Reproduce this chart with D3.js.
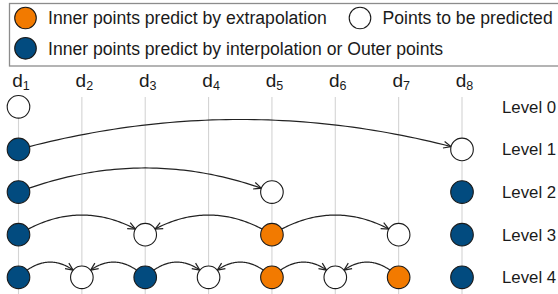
<!DOCTYPE html>
<html>
<head>
<meta charset="utf-8">
<script src="https://cdn.jsdelivr.net/npm/d3@7"></script>
<style>
  html, body { margin: 0; padding: 0; background: #fff; }
  svg { display: block; font-family: "Liberation Sans", Arial, Helvetica, sans-serif; }
</style>
</head>
<body>
<svg id="chart" width="558" height="294"></svg>
<script>
// ---------- data ----------
const categories = ["d1", "d2", "d3", "d4", "d5", "d6", "d7", "d8"];
const levels = ["Level 0", "Level 1", "Level 2", "Level 3", "Level 4"];
// point kind per column: "o" extrapolation, "b" interpolation/outer, "w" to be predicted, null = none
const level0Points = ["w", null, null, null, null, null, null, null];
const level1Points = ["b", null, null, null, null, null, null, "w"];
const level2Points = ["b", null, null, null, "w", null, null, "b"];
const level3Points = ["b", null, "w", null, "o", null, "w", "b"];
const level4Points = ["b", "w", "b", "w", "o", "w", "o", "b"];
// arrows [from column index, to column index]
const level0Arrows = [];
const level1Arrows = [[0, 7]];
const level2Arrows = [[0, 4]];
const level3Arrows = [[0, 2], [4, 2], [4, 6]];
const level4Arrows = [[0, 1], [2, 1], [2, 3], [4, 3], [4, 5], [6, 5]];
const legendLabels = [
  "Inner points predict by extrapolation",
  "Points to be predicted",
  "Inner points predict by interpolation or Outer points"
];

const allPoints = [level0Points, level1Points, level2Points, level3Points, level4Points];
const allArrows = [level0Arrows, level1Arrows, level2Arrows, level3Arrows, level4Arrows];

// ---------- style ----------
const colors = { o: "#F27A00", b: "#024B7F", w: "#ffffff" };
const R = 11.3;
const stroke = "#1a1a1a";
const bulge = [0, 0.135, 0.19, 0.31, 0.48];

const svg = d3.select("#chart");
const x = d3.scalePoint().domain(categories).range([18.5, 462]);
const y = d3.scalePoint().domain(levels).range([106.8, 277.3]);

// ---------- legend ----------
svg.append("rect")
  .attr("x", 9.5).attr("y", 3.5).attr("width", 560).attr("height", 62.5)
  .attr("fill", "none").attr("stroke", "#8c8c8c").attr("stroke-width", 1.3);

const legendItems = [
  { kind: "o", label: legendLabels[0], cx: 25.5, cy: 18 },
  { kind: "w", label: legendLabels[1], cx: 360, cy: 18 },
  { kind: "b", label: legendLabels[2], cx: 25.5, cy: 48.3 }
];
const lg = svg.append("g");
legendItems.forEach(it => {
  lg.append("circle").attr("cx", it.cx).attr("cy", it.cy).attr("r", 10.8)
    .attr("fill", colors[it.kind]).attr("stroke", stroke).attr("stroke-width", 1.1);
  lg.append("text").attr("x", it.cx + 22.5).attr("y", it.cy + 6.2)
    .attr("font-size", 17.6).attr("fill", "#1a1a1a").text(it.label);
});

// ---------- grid lines ----------
svg.append("g").selectAll("line").data(categories).join("line")
  .attr("x1", d => x(d)).attr("x2", d => x(d))
  .attr("y1", 97).attr("y2", 294)
  .attr("stroke", "#d4d4d4").attr("stroke-width", 1.1);

// ---------- column labels ----------
const colLabels = svg.append("g").selectAll("text").data(categories).join("text")
  .attr("x", d => x(d) + 2.5).attr("y", 87)
  .attr("text-anchor", "middle").attr("fill", "#1a1a1a");
colLabels.append("tspan").attr("font-size", 19).text(d => d.charAt(0));
colLabels.append("tspan").attr("font-size", 12.5).attr("dy", 3).text(d => d.slice(1));

// ---------- level labels ----------
svg.append("g").selectAll("text").data(levels).join("text")
  .attr("x", 502).attr("y", d => y(d) + 6)
  .attr("font-size", 16.8).attr("fill", "#1a1a1a").text(d => d);

// ---------- arrows ----------
const ag = svg.append("g").attr("fill", "none").attr("stroke", "#222").attr("stroke-width", 1.2);
const line = d3.line();
allArrows.forEach((arrows, li) => {
  const cy = y(levels[li]);
  arrows.forEach(([a, b]) => {
    const p0 = [x(categories[a]), cy];
    const p2 = [x(categories[b]), cy];
    const chord = Math.abs(p2[0] - p0[0]);
    const p1 = [(p0[0] + p2[0]) / 2, cy - bulge[li] * chord];
    const q = t => [
      (1 - t) * (1 - t) * p0[0] + 2 * (1 - t) * t * p1[0] + t * t * p2[0],
      (1 - t) * (1 - t) * p0[1] + 2 * (1 - t) * t * p1[1] + t * t * p2[1]
    ];
    const dist = (p, c) => Math.hypot(p[0] - c[0], p[1] - c[1]);
    // find trim parameters
    let lo = 0, hi = 0.5;
    for (let i = 0; i < 40; i++) { const m = (lo + hi) / 2; if (dist(q(m), p0) < R) lo = m; else hi = m; }
    const t0 = hi;
    lo = 0.5; hi = 1;
    for (let i = 0; i < 40; i++) { const m = (lo + hi) / 2; if (dist(q(m), p2) < R) hi = m; else lo = m; }
    const t1 = lo;
    const pts = d3.range(0, 61).map(i => q(t0 + (t1 - t0) * i / 60));
    ag.append("path").attr("d", line(pts));
    // arrow head
    const tip = pts[pts.length - 1];
    const prev = q(t1 - 0.02);
    const ang = Math.atan2(tip[1] - prev[1], tip[0] - prev[0]);
    const L = 7.5, W = 3.4;
    const bx = tip[0] - L * Math.cos(ang), by = tip[1] - L * Math.sin(ang);
    const nx = -Math.sin(ang), ny = Math.cos(ang);
    ag.append("path").attr("d", line([
      [bx + W * nx, by + W * ny], tip, [bx - W * nx, by - W * ny]
    ]));
  });
});

// ---------- points ----------
const pg = svg.append("g");
allPoints.forEach((pts, li) => {
  pts.forEach((k, ci) => {
    if (!k) return;
    pg.append("circle")
      .attr("cx", x(categories[ci])).attr("cy", y(levels[li])).attr("r", R)
      .attr("fill", colors[k]).attr("stroke", stroke).attr("stroke-width", 1.1);
  });
});
</script>
</body>
</html>
